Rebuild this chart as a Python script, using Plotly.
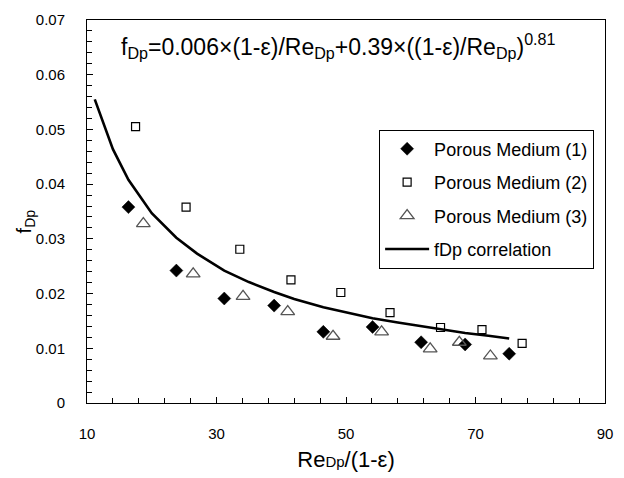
import plotly.graph_objects as go

# ---- data ----
pm1_x = [16.4, 23.8, 31.2, 38.9, 46.5, 54.1, 61.6, 68.4, 75.2]
pm1_y = [0.0358, 0.0242, 0.0191, 0.0178, 0.0130, 0.0139, 0.0111, 0.0107, 0.0090]

pm2_x = [17.5, 25.3, 33.6, 41.5, 49.2, 56.8, 64.6, 71.0, 77.2]
pm2_y = [0.0505, 0.0358, 0.0281, 0.0225, 0.0202, 0.0165, 0.0138, 0.0134, 0.0109]

pm3_x = [18.7, 26.4, 34.1, 41.0, 48.0, 55.5, 63.0, 67.5, 72.3]
pm3_y = [0.0328, 0.0236, 0.0195, 0.0167, 0.0122, 0.0130, 0.0099, 0.0111, 0.0086]

corr_x = [11.2, 14.0, 16.4, 20.0, 23.8, 27.0, 31.2, 35.0, 38.9, 42.0, 46.5,
          50.0, 54.1, 58.0, 61.6, 65.0, 68.4, 72.0, 75.2]
corr_y = [0.0555, 0.0464, 0.0408, 0.0347, 0.0302, 0.0273, 0.0242, 0.0221,
          0.0203, 0.0190, 0.0175, 0.0166, 0.0155, 0.0147, 0.0140, 0.0134,
          0.0128, 0.0123, 0.0118]

x_ticks = [10, 30, 50, 70, 90]

FONT = "Liberation Sans, Arial, sans-serif"

fig = go.Figure()
fig.add_trace(go.Scatter(
    x=pm1_x, y=pm1_y, mode="markers", name="Porous Medium (1)",
    legendgroup="g1",
    marker=dict(symbol="diamond", size=10, color="black",
                line=dict(color="black", width=0.5))))
fig.add_trace(go.Scatter(
    x=pm2_x, y=pm2_y, mode="markers", name="Porous Medium (2)",
    legendgroup="g2",
    marker=dict(symbol="square-open", size=8, color="black",
                line=dict(color="black", width=1.2))))
fig.add_trace(go.Scatter(
    x=pm3_x, y=pm3_y, mode="markers", name="Porous Medium (3)",
    legendgroup="g3",
    marker=dict(symbol="triangle-up-open", size=12, color="#555555",
                line=dict(color="#555555", width=1.3))))
fig.add_trace(go.Scatter(
    x=corr_x, y=corr_y, mode="lines", name="fDp correlation",
    legendgroup="g4",
    line=dict(color="black", width=2.6)))

fig.add_annotation(
    xref="paper", yref="paper", x=0.485, y=0.932,
    xanchor="center", yanchor="middle", showarrow=False,
    text="f<sub>Dp</sub>=0.006×(1-ε)/Re<sub>Dp</sub>+0.39×((1-ε)/Re<sub>Dp</sub>)<sup>0.81</sup>",
    font=dict(family=FONT, size=23, color="black"))

# y-axis title placed as rotated text (slightly below plot centre, as in the reference)
fig.add_annotation(
    xref="paper", yref="paper", x=-0.119, y=0.475,
    xanchor="center", yanchor="middle", showarrow=False, textangle=-90,
    text="f<sub>Dp</sub>", font=dict(family=FONT, size=20, color="black"))

fig.update_layout(
    width=624, height=478,
    margin=dict(l=87, r=11, t=18, b=75),
    paper_bgcolor="white", plot_bgcolor="white",
    font=dict(family=FONT, color="black"),
    showlegend=True,
    legend=dict(
        x=0.979, y=0.714, xanchor="right", yanchor="top",
        bgcolor="white", bordercolor="black", borderwidth=1,
        font=dict(family=FONT, size=18, color="black"),
        itemwidth=44,
        tracegroupgap=7, traceorder="grouped"),
    xaxis=dict(
        range=[10, 90], tickmode="array", tickvals=x_ticks,
        ticktext=[str(v) for v in x_ticks],
        ticks="inside", ticklen=6, tickcolor="black",
        minor=dict(dtick=4, tick0=10, ticks="inside", ticklen=5, tickcolor="black"),
        showline=True, linecolor="black", linewidth=1, mirror=True,
        showgrid=False, zeroline=False,
        tickfont=dict(family=FONT, size=15),
        ticklabelstandoff=17,
        title=dict(text="Re<span style='font-size:15px'>Dp</span>/(1-ε)",
                   font=dict(family=FONT, size=22), standoff=10)),
    yaxis=dict(
        range=[0, 0.07], dtick=0.01, tick0=0,
        ticks="inside", ticklen=6, tickcolor="black",
        minor=dict(dtick=0.002, ticks="inside", ticklen=5, tickcolor="black"),
        showline=True, linecolor="black", linewidth=1, mirror=True,
        showgrid=False, zeroline=False,
        tickfont=dict(family=FONT, size=15),
        ticklabelstandoff=18),
)

fig.write_html("out.html",
               config={"displayModeBar": False},
               post_script="document.body.style.margin='0';document.body.style.overflow='hidden';")
